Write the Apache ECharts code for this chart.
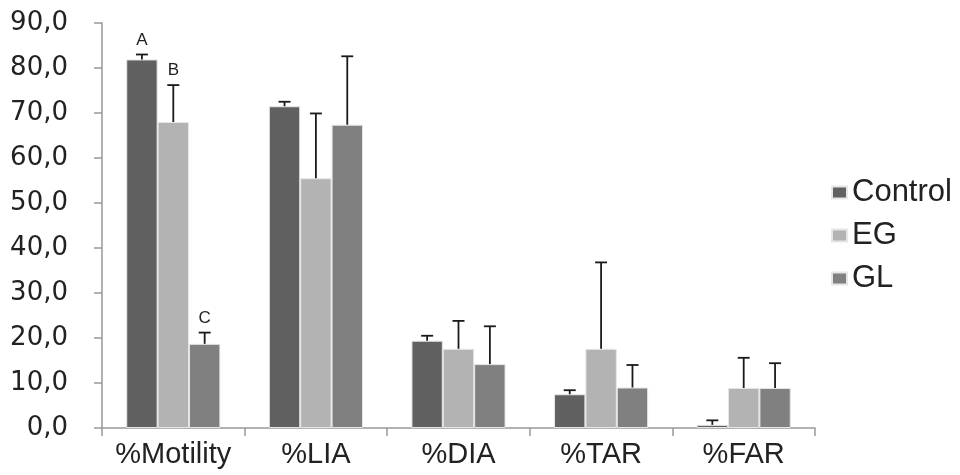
<!DOCTYPE html>
<html>
<head>
<meta charset="utf-8">
<script src="https://cdn.jsdelivr.net/npm/echarts@6/dist/echarts.min.js"></script>
<style>
  html, body { margin: 0; padding: 0; background: #fff; }
  #chart { width: 960px; height: 475px; }
</style>
</head>
<body>
<div id="chart"></div>
<script>
  var categories = ['%Motility', '%LIA', '%DIA', '%TAR', '%FAR'];
  var seriesNames = ['Control', 'EG', 'GL'];
  var controlMean = [81.9, 71.5, 19.4, 7.5, 0.7];
  var controlErr = [1.1, 1.0, 1.1, 0.9, 1.0];
  var egMean = [68.0, 55.5, 17.6, 17.6, 8.9];
  var egErr = [8.2, 14.4, 6.2, 19.2, 6.7];
  var glMean = [18.7, 67.4, 14.2, 9.0, 8.9];
  var glErr = [2.5, 15.2, 8.4, 5.0, 5.5];
  // significance letters, only on the first group
  var controlLetters = ['A', '', '', '', ''];
  var egLetters = ['B', '', '', '', ''];
  var glLetters = ['C', '', '', '', ''];
  var colors = ['#606060', '#b3b3b3', '#808080'];

  var means = [controlMean, egMean, glMean];
  var errs = [controlErr, egErr, glErr];
  var letters = [controlLetters, egLetters, glLetters];
  var gapRatio = 0.34;
  var font = '"Liberation Sans", Arial, sans-serif';

  var chart = echarts.init(document.getElementById('chart'));

  var fmt = function (v) {
    return v.toFixed(1).replace('.', ',');
  };

  var series = [];
  seriesNames.forEach(function (name, i) {
    series.push({
      name: name,
      type: 'bar',
      data: means[i],
      barGap: '0%',
      barCategoryGap: (gapRatio * 100) + '%',
      itemStyle: { color: colors[i], borderColor: '#e6e6e6', borderWidth: 1 },
      emphasis: { disabled: true }
    });
  });

  seriesNames.forEach(function (name, i) {
    series.push({
      type: 'custom',
      silent: true,
      z: 5,
      data: categories.map(function (c, k) {
        return [k, means[i][k], means[i][k] + errs[i][k]];
      }),
      renderItem: function (params, api) {
        var k = api.value(0);
        var band = api.size([1, 0])[0];
        var bw = band * (1 - gapRatio) / 3;
        var base = api.coord([k, api.value(1)]);
        var top = api.coord([k, api.value(2)]);
        var x = base[0] + (i - 1) * bw;
        var children = [
          { type: 'line', shape: { x1: x, y1: base[1], x2: x, y2: top[1] }, style: { stroke: '#1a1a1a', lineWidth: 1.8 } },
          { type: 'line', shape: { x1: x - 6, y1: top[1], x2: x + 6, y2: top[1] }, style: { stroke: '#1a1a1a', lineWidth: 1.8 } }
        ];
        var letter = letters[i][k];
        if (letter) {
          children.push({
            type: 'text',
            style: {
              x: x, y: top[1] - 6, text: letter,
              textAlign: 'center', textVerticalAlign: 'bottom',
              font: '17px ' + font, fill: '#222'
            }
          });
        }
        return { type: 'group', children: children };
      }
    });
  });

  chart.setOption({
    animation: false,
    grid: { left: 102, right: 145, top: 23, bottom: 47 },
    legend: {
      orient: 'vertical',
      left: 826,
      top: 172,
      itemWidth: 15,
      itemHeight: 12,
      itemGap: 12,
      icon: 'rect',
      data: seriesNames,
      textStyle: { fontSize: 31, color: '#222', fontFamily: font }
    },
    xAxis: {
      type: 'category',
      data: categories,
      axisLine: { lineStyle: { color: '#999', width: 1.5 } },
      axisTick: { show: true, length: 8, lineStyle: { color: '#999', width: 1.5 } },
      axisLabel: { interval: 0, fontSize: 29, color: '#222', margin: 12, fontFamily: font }
    },
    yAxis: {
      type: 'value',
      min: 0,
      max: 90,
      interval: 10,
      splitLine: { show: false },
      axisLine: { show: true, lineStyle: { color: '#999', width: 1.5 } },
      axisTick: { show: true, length: 8, lineStyle: { color: '#999', width: 1.5 } },
      axisLabel: { fontSize: 26, color: '#222', margin: 34, formatter: fmt, fontFamily: '"DejaVu Sans", sans-serif' }
    },
    series: series
  });
</script>
</body>
</html>
